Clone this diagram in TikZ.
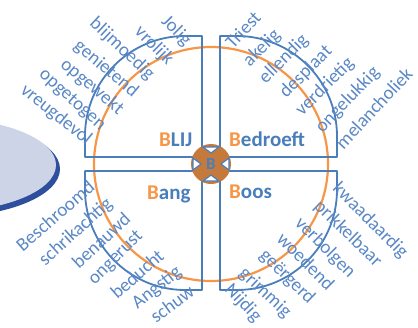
\documentclass[tikz,border=0pt]{standalone}
\usepackage{fontspec}
\setmainfont{Carlito}
\definecolor{emoBlue}{HTML}{4A7EBB}
\definecolor{emoText}{HTML}{5A88C6}
\definecolor{emoOrange}{HTML}{F79646}
\definecolor{emoBrown}{HTML}{C57A3C}
\definecolor{emoDisc}{HTML}{CDD4E8}
\definecolor{emoDiscEdge}{HTML}{2E4F9E}

\begin{document}
\begin{tikzpicture}[x=1pt, y=-1pt,
    quad/.style={draw=emoBlue, line width=1.8pt, line join=round},
    word/.style={font=\fontsize{19}{19}\selectfont, text=emoText, inner sep=0pt, anchor=center},
    lbl/.style={font=\fontsize{21}{21}\selectfont\bfseries, text=emoBlue, inner sep=0pt, anchor=base west},
    tip/.style={draw=emoBlue, line width=1.2pt, fill=white, line join=miter}
  ]
  \useasboundingbox (0,0) rectangle (418,327);
  % disc cut by the left edge
  \fill[emoDiscEdge] (-56,169) ellipse [x radius=116pt, y radius=48pt];
  \fill[emoDisc] (-60,165) ellipse [x radius=116pt, y radius=47pt];
  % orange ring
  \draw[emoOrange, line width=2.2pt] (211,164) circle [radius=117pt];
  % four quarters
  \draw[quad] (85,157) -- (85,136) .. controls (85,81) and (130,36) .. (185,36) -- (202,36) -- (202,157) -- cycle;
  \draw[quad] (220,157) -- (220,36) -- (237,36) .. controls (292,36) and (337,81) .. (337,136) -- (337,157) -- cycle;
  \draw[quad] (202,171) -- (85,171) -- (85,190) .. controls (85,245) and (130,290) .. (185,290) -- (202,290) -- cycle;
  \draw[quad] (220,171) -- (337,171) -- (337,190) .. controls (337,245) and (292,290) .. (237,290) -- (220,290) -- cycle;
  % hub with the four tips
  \fill[emoBrown] (211,164) circle [radius=20pt];
  \filldraw[tip] (193,158) -- (201,164) -- (193,170) -- cycle;
  \filldraw[tip] (229,158) -- (221,164) -- (229,170) -- cycle;
  \filldraw[tip] (203,147) -- (211,153) -- (219,147) -- cycle;
  \filldraw[tip] (203,181) -- (211,175) -- (219,181) -- cycle;
  \node[font=\fontsize{17}{17}\selectfont\bfseries, text=emoBlue, inner sep=0pt] (hub) at (211,164) {B};
  % quarter titles
  \node[lbl] (blij) at (159,146) {\textcolor{emoOrange}{B}LIJ};
  \node[lbl] (bedroeft) at (229,146) {\textcolor{emoOrange}{B}edroeft};
  \node[lbl] (bang) at (147,199) {\textcolor{emoOrange}{B}ang};
  \node[lbl] (boos) at (229,198) {\textcolor{emoOrange}{B}oos};
  % blij
  \node[word, rotate=-45] (jolig) at (176,31) {Jolig};
  \node[word, rotate=-45] (vrolijk) at (154,46) {vrolijk};
  \node[word, rotate=-43] (blijmoedig) at (122,49) {blijmoedig};
  \node[word, rotate=-40] (genietend) at (106,69) {genietend};
  \node[word, rotate=-40] (opgewekt) at (92,87) {opgewekt};
  \node[word, rotate=-42] (opgetogen) at (72,100) {opgetogen};
  \node[word, rotate=-39] (vreugdevol) at (56,115) {vreugdevol};
  % bedroeft
  \node[word, rotate=47] (triest) at (243,30) {Triest};
  \node[word, rotate=45] (akelig) at (262,48) {akelig};
  \node[word, rotate=45] (ellendig) at (284,59) {ellendig};
  \node[word, rotate=45] (desplaat) at (306,72) {desplaat};
  \node[word, rotate=45] (verdrietig) at (325,87) {verdrietig};
  \node[word, rotate=46] (ongelukkig) at (348,100) {ongelukkig};
  \node[word, rotate=47] (melancholiek) at (374,108) {melancholiek};
  % bang
  \node[word, rotate=41] (beschroomd) at (55,216) {Beschroomd};
  \node[word, rotate=42] (schrikachtig) at (76,232) {schrikachtig};
  \node[word, rotate=43] (benauwd) at (101,240) {benauwd};
  \node[word, rotate=45] (ongerust) at (116,258) {ongerust};
  \node[word, rotate=41] (beducht) at (137,274) {beducht};
  \node[word, rotate=38] (angstig) at (157,288) {Angstig};
  \node[word, rotate=36] (schuw) at (172,304) {schuw};
  % boos
  \node[word, rotate=-45] (kwaadaardig) at (370,221) {kwaadaardig};
  \node[word, rotate=-44] (prikkelbaar) at (348,234) {prikkelbaar};
  \node[word, rotate=-45] (verbolgen) at (325,248) {verbolgen};
  \node[word, rotate=-45] (woedend) at (306,261) {woedend};
  \node[word, rotate=-44] (geergerd) at (287,277) {geërgerd};
  \node[word, rotate=-43] (grimmig) at (265,293) {grimmig};
  \node[word, rotate=-47] (nijdig) at (243,303) {Nijdig};
\end{tikzpicture}
\end{document}
